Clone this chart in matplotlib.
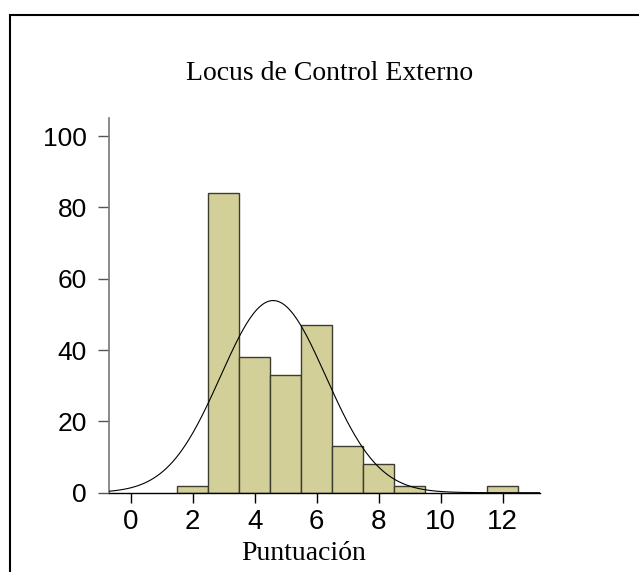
import numpy as np
import matplotlib.pyplot as plt
from matplotlib.patches import Rectangle

# Histogram data (bin centres, counts)
scores = [2, 3, 4, 5, 6, 7, 8, 9, 12]
counts = [2, 84, 38, 33, 47, 13, 8, 2, 2]
x_ticks = [0, 2, 4, 6, 8, 10, 12]
y_ticks = [0, 20, 40, 60, 80, 100]

fig = plt.figure(figsize=(6.39, 5.72), dpi=100)
ax = fig.add_axes([109 / 639, 1 - 492.7 / 572, 431 / 639, (492.7 - 118.3) / 572])

ax.bar(scores, counts, width=1.0, color='#d3cf98', edgecolor='#3c3c30', linewidth=1.0, zorder=2)

# normal curve from the data
sc = np.array(scores, dtype=float)
ct = np.array(counts, dtype=float)
n = ct.sum()
mu = (sc * ct).sum() / n
sd = np.sqrt((ct * (sc - mu) ** 2).sum() / (n - 1))
xs = np.linspace(-0.7, 13.2, 400)
ys = n * 1.0 / (sd * np.sqrt(2 * np.pi)) * np.exp(-0.5 * ((xs - mu) / sd) ** 2)
ax.plot(xs, ys, color='black', linewidth=0.8, zorder=3)

ax.set_xlim(-0.7, 13.2)
ax.set_ylim(0, 105)
ax.set_xticks(x_ticks)
ax.set_yticks(y_ticks)
ax.tick_params(axis='x', direction='out', length=7, width=1, colors='black', labelsize=20, pad=5)
ax.tick_params(axis='y', direction='out', length=8, width=1, colors='#555555', labelcolor='black', labelsize=19, pad=8)
for lab in ax.get_xticklabels() + ax.get_yticklabels():
    lab.set_fontfamily('Liberation Sans')

for s in ['top', 'right']:
    ax.spines[s].set_visible(False)
ax.spines['left'].set_color('#777777')
ax.spines['left'].set_linewidth(1.2)
ax.spines['bottom'].set_color('black')
ax.spines['bottom'].set_linewidth(1.0)

fig.text(330 / 639, 1 - 73 / 572, 'Locus de Control Externo', ha='center', va='center',
         fontsize=20, family='Liberation Serif')
fig.text(304 / 639, 1 - 553 / 572, 'Puntuación', ha='center', va='center',
         fontsize=20, family='Liberation Serif')

# outer frame
fig.patches.append(Rectangle((10 / 639, -0.1), 1.0, 1 - 14.6 / 572 + 0.1, transform=fig.transFigure,
                             fill=False, edgecolor='black', linewidth=1.5))

fig.savefig('out.png', dpi=100)
